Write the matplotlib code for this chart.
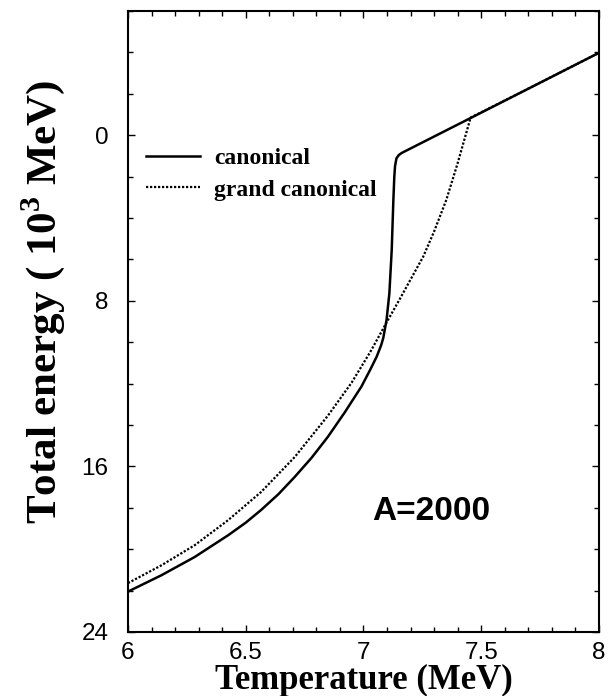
import matplotlib

matplotlib.use("Agg")

import matplotlib.pyplot as plt
from matplotlib.ticker import MultipleLocator


# canonical ensemble (solid curve)
temp_canonical = [
    6.000, 6.142, 6.283, 6.425, 6.500, 6.566, 6.640, 6.708, 6.780, 6.849,
    6.920, 6.991, 7.030, 7.056, 7.075, 7.084, 7.098, 7.110, 7.120, 7.127,
    7.131, 7.134, 7.140, 7.150, 7.162, 7.495, 8.000,
]
energy_canonical = [
    22.05, 21.26, 20.38, 19.33, 18.72, 18.10, 17.33, 16.51, 15.58, 14.57,
    13.40, 12.15, 11.30, 10.70, 10.15, 9.80, 8.93, 7.64, 5.54, 3.12,
    2.00, 1.50, 1.12, 0.96, 0.86, -1.06, -3.98,
]

# grand canonical ensemble (dotted curve)
temp_grand = [
    6.000, 6.142, 6.283, 6.425, 6.566, 6.708, 6.849, 6.950, 7.030, 7.098,
    7.155, 7.254, 7.300, 7.352, 7.400, 7.455, 7.700, 8.000,
]
energy_grand = [
    21.64, 20.78, 19.81, 18.60, 17.23, 15.55, 13.55, 11.95, 10.45, 9.05,
    7.90, 5.86, 4.65, 3.12, 1.35, -0.85, -2.25, -3.98,
]

legend_labels = ["canonical", "grand canonical"]
mass_label = "A=2000"

plt.rcParams["font.family"] = "Liberation Sans"
plt.rcParams["mathtext.fontset"] = "custom"
plt.rcParams["mathtext.rm"] = "Liberation Serif"
plt.rcParams["mathtext.bf"] = "Liberation Serif:bold"

fig = plt.figure(figsize=(6.1, 6.96), dpi=100)
ax = fig.add_axes([0.2098, 0.092, 0.7721, 0.8922])

ax.plot(temp_grand, energy_grand, color="black", linewidth=1.6,
        linestyle=(0, (1.0, 0.8)), label=legend_labels[1], zorder=2)
ax.plot(temp_canonical, energy_canonical, color="black", linewidth=1.8,
        label=legend_labels[0], zorder=3)

ax.set_xlim(6, 8)
ax.set_ylim(24, -6)

ax.xaxis.set_minor_locator(MultipleLocator(0.1))
ax.yaxis.set_minor_locator(MultipleLocator(2))
ax.set_xticks([6, 6.5, 7, 7.5, 8])
ax.set_xticklabels(["6", "6.5", "7", "7.5", "8"])
ax.set_yticks([0, 8, 16, 24])
ax.set_yticklabels(["0", "8", "16", "24"])

ax.tick_params(which="both", direction="in", top=True, right=True, width=1.0)
ax.tick_params(which="major", length=5, labelsize=17.5)
ax.tick_params(which="minor", length=3.6)
ax.tick_params(axis="y", which="major", pad=14)
ax.tick_params(axis="x", which="major", pad=7.5)

for spine in ax.spines.values():
    spine.set_linewidth(1.5)

ax.set_xlabel("Temperature (MeV)", fontsize=25, labelpad=0,
              family="Liberation Serif", weight="bold")
fig.text(43 / 610, 1 - 302 / 696, "Total energy ( 10$^{\\mathbf{3}}$ MeV)",
         rotation=90, ha="center", va="center", fontsize=31,
         family="Liberation Serif", weight="bold")

ax.text(7.287, 18.2, mass_label, fontsize=24, fontweight="bold",
        ha="center", va="center")

handles, labels = ax.get_legend_handles_labels()
ax.legend(handles[::-1], labels[::-1], loc="upper left",
          bbox_to_anchor=(0.038, 0.78), frameon=False, borderpad=0,
          borderaxespad=0, handlelength=2.3, handletextpad=0.6,
          labelspacing=0.42, prop={"family": "Liberation Serif",
                                   "weight": "bold", "size": 17})

fig.savefig("out.png", dpi=100)
plt.close(fig)
